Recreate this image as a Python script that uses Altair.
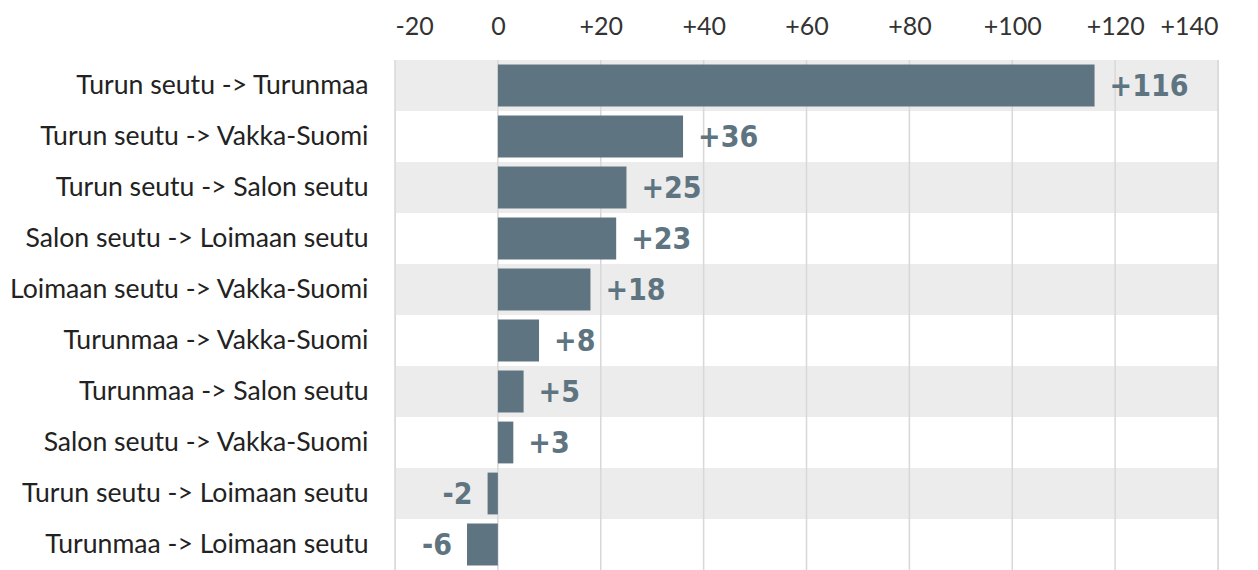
import altair as alt
import pandas as pd

routes = [
    "Turun seutu -> Turunmaa",
    "Turun seutu -> Vakka-Suomi",
    "Turun seutu -> Salon seutu",
    "Salon seutu -> Loimaan seutu",
    "Loimaan seutu -> Vakka-Suomi",
    "Turunmaa -> Vakka-Suomi",
    "Turunmaa -> Salon seutu",
    "Salon seutu -> Vakka-Suomi",
    "Turun seutu -> Loimaan seutu",
    "Turunmaa -> Loimaan seutu",
]
changes = [116, 36, 25, 23, 18, 8, 5, 3, -2, -6]
ticks = [-20, 0, 20, 40, 60, 80, 100, 120, 140]

BAR = "#5e7581"
LABEL_FONT = "Lato"
VALUE_FONT = "DejaVu Sans Condensed"

df = pd.DataFrame({"route": routes, "change": changes})
df["label"] = [("+" + str(v)) if v > 0 else str(v) for v in changes]
df["shade"] = [i % 2 == 0 for i in range(len(routes))]
tick_df = pd.DataFrame({"tick": ticks})

xscale = alt.Scale(domain=[ticks[0], ticks[-1]], nice=False, zero=False)
yscale = alt.Scale(domain=routes, paddingInner=0, paddingOuter=0)

xaxis = alt.Axis(
    orient="top", values=ticks, grid=False, domain=False, ticks=False,
    labelExpr="datum.value > 0 ? '+' + datum.value : '' + datum.value",
    labelFontSize=25, labelColor="#333333", labelFont=LABEL_FONT,
    labelPadding=21, title=None,
)
yaxis = alt.Axis(
    grid=False, domain=False, ticks=False, labelFontSize=26.6,
    labelColor="#222222", labelFont=LABEL_FONT, labelPadding=27,
    labelLimit=1000, title=None,
)

base = alt.Chart(df)

bands = base.transform_filter("datum.shade").mark_rect(color="#ececec").encode(
    y=alt.Y("route:N", scale=yscale, sort=routes, axis=yaxis),
    x=alt.X("x0:Q", scale=xscale, axis=xaxis),
    x2="x1:Q",
).transform_calculate(x0=str(ticks[0]), x1=str(ticks[-1]))

grid = alt.Chart(tick_df).mark_rule(color="#d8d8d8", strokeWidth=1.5).encode(
    x=alt.X("tick:Q", scale=xscale, axis=xaxis)
)

bars = base.mark_bar(color=BAR, height=alt.RelativeBandSize(band=0.82)).encode(
    y=alt.Y("route:N", scale=yscale, sort=routes, axis=yaxis),
    x=alt.X("change:Q", scale=xscale, axis=xaxis),
)

pos_text = base.transform_filter("datum.change > 0").mark_text(
    align="left", baseline="middle", dx=15, dy=1, fontSize=30,
    fontWeight="bold", font=VALUE_FONT, color=BAR,
).encode(
    y=alt.Y("route:N", scale=yscale, sort=routes, axis=yaxis),
    x=alt.X("change:Q", scale=xscale, axis=xaxis),
    text="label:N",
)

neg_text = base.transform_filter("datum.change < 0").mark_text(
    align="right", baseline="middle", dx=-15, dy=1, fontSize=30,
    fontWeight="bold", font=VALUE_FONT, color=BAR,
).encode(
    y=alt.Y("route:N", scale=yscale, sort=routes, axis=yaxis),
    x=alt.X("change:Q", scale=xscale, axis=xaxis),
    text="label:N",
)

chart = alt.layer(bands, grid, bars, pos_text, neg_text).properties(
    width=823, height=510, padding={"left": 0, "top": 6, "right": 5, "bottom": 0}
).configure_view(stroke=None).configure(background="white")

chart.save("out.html", embed_options={"renderer": "svg", "actions": False})
